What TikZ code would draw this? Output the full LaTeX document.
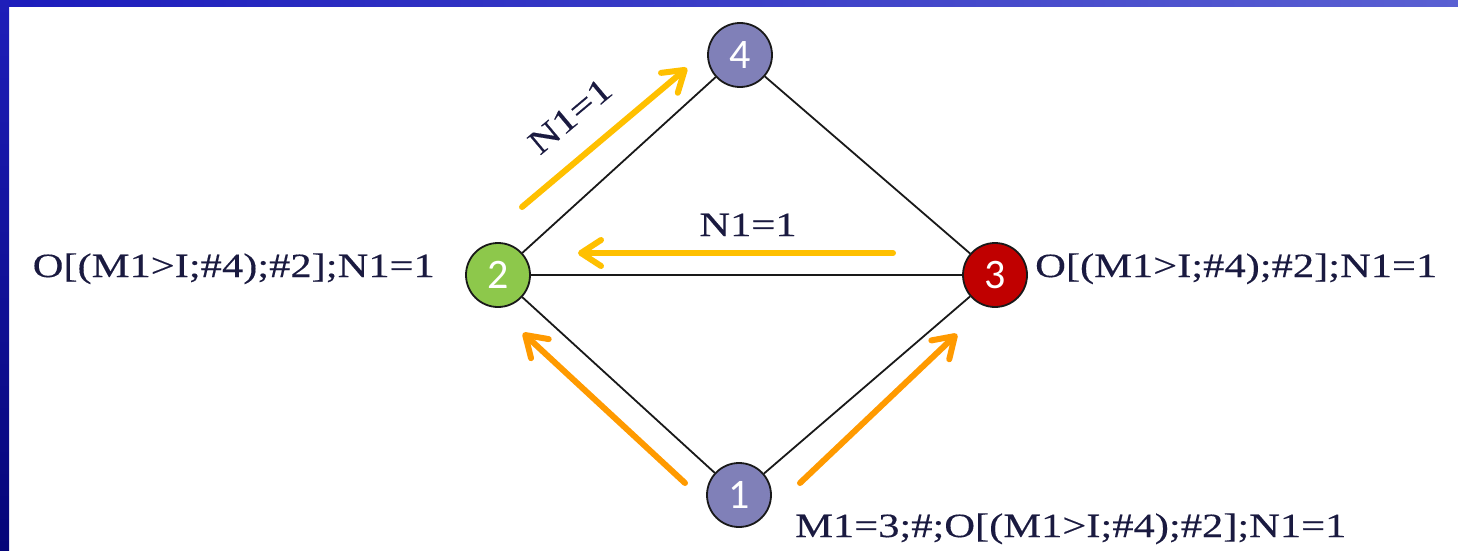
\documentclass[tikz,border=0pt]{standalone}
\usepackage{fontspec}
\setmainfont{Liberation Serif}
\newfontfamily\lblfont[FakeStretch=1.25,FakeBold=0.3]{Liberation Serif}
\newfontfamily\numfont{Carlito}
\usetikzlibrary{arrows.meta}
\definecolor{txt}{HTML}{1A1A40}
\definecolor{lav}{HTML}{8080B8}
\definecolor{grn}{HTML}{8DC84B}
\definecolor{red3}{HTML}{C00000}
\definecolor{yel}{HTML}{FFC000}
\definecolor{org}{HTML}{FF9A00}
\tikzset{
  vert/.style={circle, draw=black!90, line width=1.8pt, minimum size=64pt, inner sep=0pt,
    text=white, font=\numfont\fontsize{42}{42}\selectfont},
  edge/.style={line width=1.8pt, black!90},
  lbl/.style={text=txt, inner sep=0pt, font=\lblfont\fontsize{34}{40}\selectfont},
  flow/.style={line width=6pt, line cap=round, -{Straight Barb[length=20pt,width=26pt,round]}},
}
\begin{document}
\begin{tikzpicture}[x=1pt,y=-1pt]
\useasboundingbox (0,0) rectangle (1458,551);
\fill[white] (0,0) rectangle (1458,551);
% frame
\shade[left color={rgb,255:red,28;green,28;blue,188}, right color={rgb,255:red,90;green,96;blue,210}] (0,0) rectangle (1458,7);
\shade[top color={rgb,255:red,30;green,30;blue,185}, bottom color={rgb,255:red,5;green,5;blue,120}] (0,0) rectangle (9,551);
% vertices
\node[vert, fill=lav] (n4) at (740,55) {4};
\node[vert, fill=grn] (n2) at (498,275) {2};
\node[vert, fill=red3] (n3) at (995,275) {3};
\node[vert, fill=lav] (n1) at (739,495) {1};
% edges
\draw[edge] (n2) -- (n4);
\draw[edge] (n4) -- (n3);
\draw[edge] (n2) -- (n3);
\draw[edge] (n2) -- (n1);
\draw[edge] (n1) -- (n3);
% labels
\node[lbl, anchor=base east] (l2) at (435,277) {O[(M1>I;\#4);\#2];N1=1};
\node[lbl, anchor=base west] (l3) at (1035,277) {O[(M1>I;\#4);\#2];N1=1};
\node[lbl, anchor=base west] (l1) at (795,537) {M1=3;\#;O[(M1>I;\#4);\#2];N1=1};
% flow arrows
\coordinate (a1s) at (522,207); \coordinate (a1e) at (687,68);
\coordinate (a2s) at (893,253); \coordinate (a2e) at (578,253);
\coordinate (a3s) at (685,483); \coordinate (a3e) at (523,333);
\coordinate (a4s) at (800,483); \coordinate (a4e) at (957,334);
\draw[flow, yel] (a1s) -- (a1e);
\draw[flow, yel] (a2s) -- (a2e);
\draw[flow, org] (a3s) -- (a3e);
\draw[flow, org] (a4s) -- (a4e);
\node[lbl, rotate=40] (m1) at (570,116) {N1=1};
\node[lbl, anchor=base] (m2) at (748,236) {N1=1};
\end{tikzpicture}
\end{document}
